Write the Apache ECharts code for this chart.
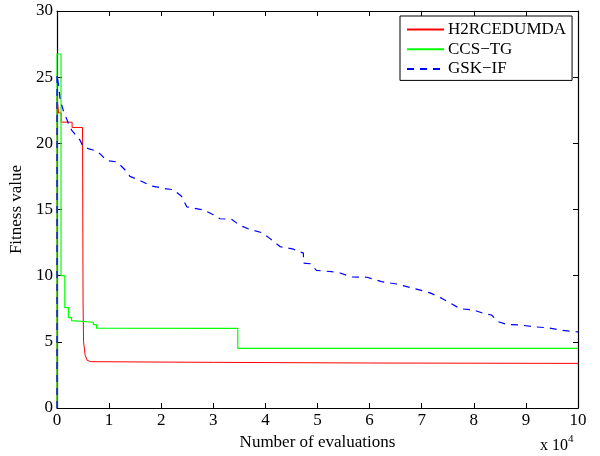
<!DOCTYPE html>
<html>
<head>
<meta charset="utf-8">
<script src="https://cdn.jsdelivr.net/npm/echarts@6/dist/echarts.min.js"></script>
<style>html,body{margin:0;padding:0;background:#fff}#c{width:600px;height:456px}</style>
</head>
<body>
<div id="c"></div>
<script>
var seriesNames = ['H2RCEDUMDA', 'CCS\u2212TG', 'GSK\u2212IF'];
var xTicks = [0,1,2,3,4,5,6,7,8,9,10];
var yTicks = [0,5,10,15,20,25,30];

var redX = [0, 0, 0.03, 0.08, 0.08, 0.29, 0.29, 0.49, 0.50, 0.51, 0.54, 0.58, 0.65, 3, 6, 10];
var redY = [0, 23.5, 22.3, 22.3, 21.6, 21.6, 21.2, 21.2, 8.0, 5.0, 4.0, 3.6, 3.5, 3.45, 3.4, 3.37];

var greenX = [0, 0, 0.077, 0.077, 0.15, 0.15, 0.22, 0.22, 0.28, 0.28, 0.70, 0.70, 0.76, 0.76, 3.47, 3.47, 10];
var greenY = [0, 26.75, 26.75, 10.0, 10.0, 7.58, 7.58, 6.83, 6.83, 6.6, 6.48, 6.3, 6.3, 6.03, 6.02, 4.5, 4.5];

var blueX = [0, 0, 0.03, 0.06, 0.12, 0.22, 0.28, 0.44, 0.50, 0.60, 0.73, 0.83, 0.95, 1.15, 1.21, 1.34, 1.40, 1.59, 1.79, 2.04, 2.23, 2.39, 2.49, 2.81, 3.00, 3.13, 3.35, 3.51, 3.70, 3.93, 4.09, 4.28, 4.54, 4.73, 4.73, 4.86, 4.98, 5.27, 5.43, 5.66, 5.95, 6.23, 6.52, 6.84, 7.16, 7.38, 7.58, 7.74, 8.00, 8.18, 8.34, 8.47, 8.63, 8.89, 9.14, 9.40, 9.65, 9.91, 10];
var blueY = [0, 25.2, 24.4, 23.3, 22.5, 21.5, 21.0, 20.25, 19.75, 19.6, 19.45, 19.2, 18.7, 18.6, 18.37, 17.86, 17.5, 17.2, 16.8, 16.6, 16.5, 16.0, 15.2, 14.97, 14.6, 14.3, 14.26, 13.8, 13.5, 13.25, 12.8, 12.2, 12.0, 11.7, 10.95, 10.9, 10.4, 10.3, 10.2, 9.9, 9.88, 9.55, 9.37, 9.05, 8.7, 8.3, 7.86, 7.5, 7.4, 7.16, 7.03, 6.52, 6.32, 6.27, 6.14, 6.07, 5.9, 5.77, 5.75];

function zip(xs, ys) { return xs.map(function (x, i) { return [x, ys[i]]; }); }

var font = 'Liberation Serif';
var chart = echarts.init(document.getElementById('c'));

function xAx(pos, labels) {
  return {
    type: 'value', position: pos, min: 0, max: 10, interval: 1,
    axisLine: { show: true, onZero: false, lineStyle: { color: '#000', width: 1.2 } },
    axisTick: { show: true, inside: true, length: 5, lineStyle: { color: '#000' } },
    axisLabel: { show: labels, color: '#000', fontFamily: font, fontSize: 17, margin: 4,
      formatter: function (v) { return xTicks.indexOf(v) >= 0 ? String(v) : ''; } },
    splitLine: { show: false }
  };
}
function yAx(pos, labels) {
  return {
    type: 'value', position: pos, min: 0, max: 30, interval: 5,
    axisLine: { show: true, onZero: false, lineStyle: { color: '#000', width: 1.2 } },
    axisTick: { show: true, inside: true, length: 5, lineStyle: { color: '#000' } },
    axisLabel: { show: labels, color: '#000', fontFamily: font, fontSize: 17, margin: 4,
      formatter: function (v) { return yTicks.indexOf(v) >= 0 ? String(v) : ''; } },
    splitLine: { show: false }
  };
}

var xa = xAx('bottom', true);
xa.name = 'Number of evaluations';
xa.nameLocation = 'middle';
xa.nameGap = 20;
xa.nameTextStyle = { color: '#000', fontFamily: font, fontSize: 17 };
var ya = yAx('left', true);
ya.name = 'Fitness value';
ya.nameLocation = 'middle';
ya.nameGap = 25;
ya.nameTextStyle = { color: '#000', fontFamily: font, fontSize: 17 };

chart.setOption({
  animation: false,
  backgroundColor: '#fff',
  grid: { left: 57, right: 22, top: 11, bottom: 48 },
  xAxis: [xa, xAx('top', false)],
  yAxis: [ya, yAx('right', false)],
  legend: {
    orient: 'vertical', left: 400, top: 16,
    backgroundColor: '#fff', borderColor: '#000', borderWidth: 1,
    padding: [5, 6, 3, 6],
    itemWidth: 37, itemHeight: 14, itemGap: 2.7,
    itemStyle: { opacity: 0 },
    textStyle: { color: '#000', fontFamily: font, fontSize: 17, lineHeight: 17, padding: [0, 0, 0, -1] },
    data: seriesNames
  },
  graphic: [{
    type: 'text', left: 540, top: 434,
    style: {
      text: '{a|x 10}{b|4}',
      rich: {
        a: { fontFamily: font, fontSize: 16, fill: '#000', verticalAlign: 'bottom' },
        b: { fontFamily: font, fontSize: 11, fill: '#000', verticalAlign: 'top', padding: [0, 0, 9, 0] }
      }
    }
  }],
  series: [
    { name: seriesNames[0], type: 'line', showSymbol: false, symbol: 'none', data: zip(redX, redY),
      lineStyle: { color: '#ff0000', width: 1 }, itemStyle: { color: '#ff0000' } },
    { name: seriesNames[1], type: 'line', showSymbol: false, symbol: 'none', data: zip(greenX, greenY),
      lineStyle: { color: '#00ff00', width: 1.2 }, itemStyle: { color: '#00ff00' } },
    { name: seriesNames[2], type: 'line', showSymbol: false, symbol: 'none', data: zip(blueX, blueY),
      lineStyle: { color: '#0000ff', width: 1.2, type: [7, 6] }, itemStyle: { color: '#0000ff' } }
  ]
});
</script>
</body>
</html>
